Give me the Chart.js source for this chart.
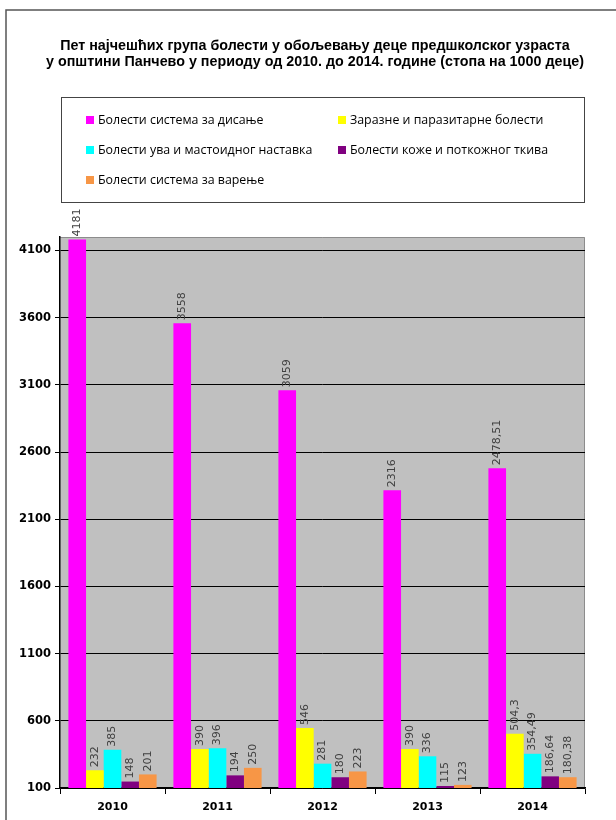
<!DOCTYPE html>
<html>
<head>
<meta charset="utf-8">
<script src="https://cdn.jsdelivr.net/npm/chart.js@4/dist/chart.umd.min.js"></script>
<style>
  html, body { margin: 0; padding: 0; background: #fff; }
  #wrap { width: 616px; height: 820px; }
</style>
</head>
<body>
<div id="wrap"><canvas id="chart" width="616" height="820"></canvas></div>
<script>
var years = ["2010", "2011", "2012", "2013", "2014"];

var seriesNames = [
  "Болести система за дисање",
  "Заразне и паразитарне болести",
  "Болести ува и мастоидног наставка",
  "Болести коже и поткожног ткива",
  "Болести система за варење"
];
var seriesColors = ["#ff00ff", "#ffff00", "#00ffff", "#800080", "#f79646"];

var respiratory = [4181, 3558, 3059, 2316, 2478.51];
var infectious = [232, 390, 546, 390, 504.3];
var ear = [385, 396, 281, 336, 354.49];
var skin = [148, 194, 180, 115, 186.64];
var digestive = [201, 250, 223, 123, 180.38];

var yTicks = [100, 600, 1100, 1600, 2100, 2600, 3100, 3600, 4100];

var titleLines = [
  "Пет најчешћих група болести у обољевању деце предшколског узраста",
  "у општини Панчево у периоду од 2010. до 2014. године (стопа на 1000 деце)"
];

var allSeries = [respiratory, infectious, ear, skin, digestive];

// frame, title and the boxed two-column legend
var decorations = {
  id: "decorations",
  beforeDraw: function(chart) {
    var ctx = chart.ctx;
    var a = chart.chartArea;
    ctx.save();
    ctx.fillStyle = "#fff";
    ctx.fillRect(0, 0, chart.width, chart.height);

    ctx.strokeStyle = "#555";
    ctx.lineWidth = 1.5;
    ctx.beginPath();
    ctx.moveTo(6, 820);
    ctx.lineTo(6, 10);
    ctx.lineTo(616, 10);
    ctx.stroke();

    ctx.fillStyle = "#000";
    ctx.font = "bold 14.3px 'Liberation Sans', Arial, sans-serif";
    ctx.textAlign = "center";
    ctx.textBaseline = "middle";
    ctx.fillText(titleLines[0], 315, 46);
    ctx.fillText(titleLines[1], 315, 62);

    ctx.strokeStyle = "#444";
    ctx.lineWidth = 1;
    ctx.strokeRect(61.5, 97.5, 523, 105);

    ctx.font = "12.4px 'Open Sans', sans-serif";
    ctx.textAlign = "left";
    for (var i = 0; i < seriesNames.length; i++) {
      var col = i % 2, row = Math.floor(i / 2);
      var x = col === 0 ? 86 : 338;
      var y = 120 + row * 30;
      ctx.fillStyle = seriesColors[i];
      ctx.fillRect(x, y - 4, 8, 8);
      ctx.fillStyle = "#000";
      ctx.fillText(seriesNames[i], x + 12, y);
    }

    ctx.fillStyle = "#c0c0c0";
    ctx.fillRect(a.left, a.top, a.right - a.left, a.bottom - a.top);
    ctx.strokeStyle = "#8c8c8c";
    ctx.beginPath();
    ctx.moveTo(a.left, a.top + 0.5);
    ctx.lineTo(a.right - 0.5, a.top + 0.5);
    ctx.lineTo(a.right - 0.5, a.bottom);
    ctx.stroke();
    ctx.restore();
  }
};

// vertical value labels above each bar
var valueLabels = {
  id: "valueLabels",
  afterDatasetsDraw: function(chart) {
    var ctx = chart.ctx;
    ctx.save();
    ctx.font = "11px 'DejaVu Sans', sans-serif";
    ctx.fillStyle = "#404040";
    ctx.textAlign = "left";
    ctx.textBaseline = "middle";
    chart.data.datasets.forEach(function(ds, di) {
      var meta = chart.getDatasetMeta(di);
      meta.data.forEach(function(bar, i) {
        var txt = String(ds.data[i]).replace(".", ",");
        ctx.save();
        ctx.translate(bar.x, bar.y - 3);
        ctx.rotate(-Math.PI / 2);
        ctx.fillText(txt, 0, 0);
        ctx.restore();
      });
    });
    ctx.restore();
  }
};

var datasets = allSeries.map(function(values, i) {
  return {
    label: seriesNames[i],
    data: values,
    backgroundColor: seriesColors[i],
    borderWidth: 0,
    categoryPercentage: 0.84,
    barPercentage: 1.0
  };
});

new Chart(document.getElementById("chart"), {
  type: "bar",
  data: { labels: years, datasets: datasets },
  plugins: [decorations, valueLabels],
  options: {
    responsive: false,
    animation: false,
    events: [],
    layout: { padding: { top: 237, right: 31, left: 0, bottom: 0 } },
    plugins: {
      legend: { display: false },
      tooltip: { enabled: false },
      title: { display: false }
    },
    scales: {
      x: {
        grid: {
          display: true,
          offset: true,
          drawOnChartArea: false,
          color: "#000",
          tickLength: 6
        },
        border: { display: true, color: "#000", width: 1.5 },
        ticks: {
          color: "#000",
          padding: 7,
          font: { family: "'DejaVu Sans', sans-serif", size: 11, weight: "bold" }
        },
        afterFit: function(scale) { scale.height = 32; }
      },
      y: {
        min: 100,
        max: 4200,
        afterBuildTicks: function(scale) {
          scale.ticks = yTicks.map(function(v) { return { value: v }; });
        },
        grid: {
          color: "#000",
          lineWidth: 1,
          tickLength: 5
        },
        border: { display: true, color: "#000", width: 1.5 },
        ticks: {
          color: "#000",
          padding: 4,
          font: { family: "'DejaVu Sans', sans-serif", size: 11.5, weight: "bold" },
          callback: function(value) { return String(value); }
        },
        afterFit: function(scale) { scale.width = 60; }
      }
    }
  }
});
</script>
</body>
</html>
